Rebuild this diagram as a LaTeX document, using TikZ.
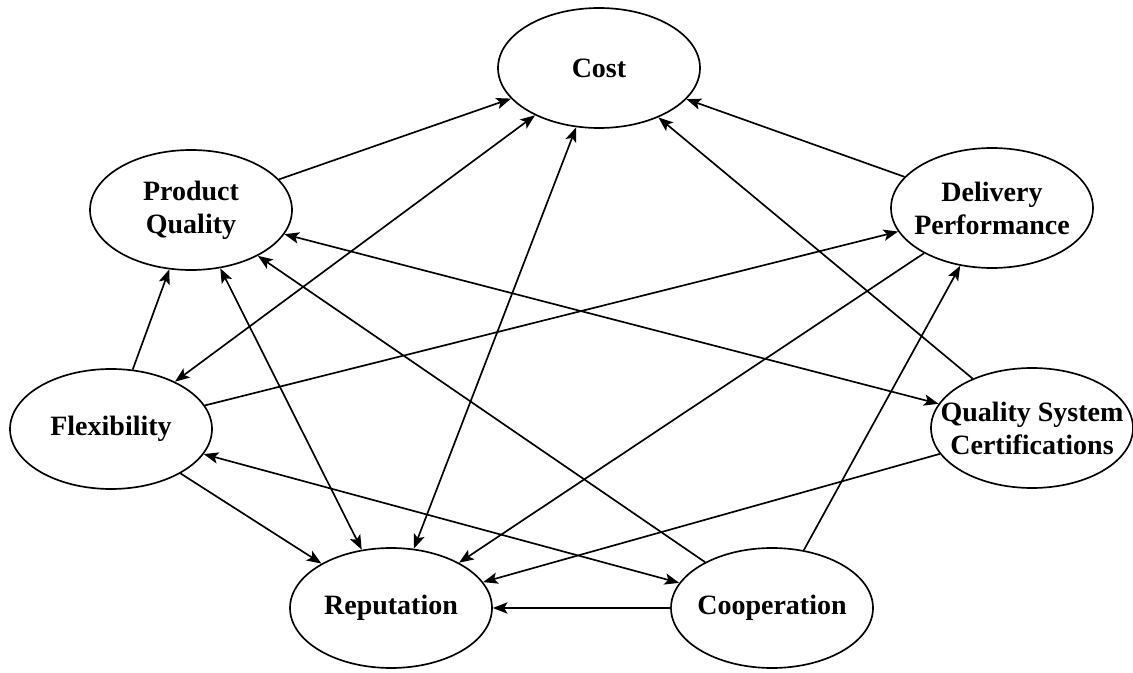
\documentclass[tikz,border=0pt]{standalone}
\usepackage{fontspec}
\setmainfont{Liberation Serif}
\usetikzlibrary{shapes.geometric,arrows.meta}

\begin{document}
\begin{tikzpicture}[x=0.75pt,y=-0.75pt,
  ell/.style={ellipse, draw, line width=1.25pt, minimum width=151.5pt,
              minimum height=90pt, inner sep=0pt},
  lbl/.style={font=\fontsize{21}{24.75}\selectfont\bfseries, align=center,
              inner sep=0pt},
  link/.style={line width=1.25pt},
  >={Stealth[length=11pt,width=8.5pt,inset=2.5pt]}]
\useasboundingbox (0,0) rectangle (1133,673);

% factors
\node[ell] (cost) at (599,68)  {};
\node[ell] (pq)   at (191,210) {};
\node[ell] (dp)   at (992,208) {};
\node[ell] (flex) at (111,429) {};
\node[ell] (qsc)  at (1032,428) {};
\node[ell] (rep)  at (391,608) {};
\node[ell] (coop) at (772,608) {};

\node[lbl] (cost-t) at (cost) {Cost};
\node[lbl] (pq-t)   at (pq)   {Product\\Quality};
\node[lbl] (dp-t)   at (dp)   {Delivery\\Performance};
\node[lbl] (flex-t) at (flex) {Flexibility};
\node[lbl] (qsc-t)  at (qsc)  {Quality System\\Certifications};
\node[lbl] (rep-t)  at (rep)  {Reputation};
\node[lbl] (coop-t) at (coop) {Cooperation};

% relations
\draw[link,->]  (pq) -- (cost);
\draw[link,<->] (flex) -- (cost);
\draw[link,<->] (rep) -- (cost);
\draw[link,->]  (dp) -- (cost);
\draw[link,->]  (qsc) -- (cost);
\draw[link,<->] (pq) -- (qsc);
\draw[link,->]  (flex) -- (pq);
\draw[link,->]  (flex) -- (dp);
\draw[link,<->] (pq) -- (rep);
\draw[link,->]  (coop) -- (pq);
\draw[link,<->] (flex) -- (coop);
\draw[link,->]  (flex) -- (rep);
\draw[link,->]  (dp) -- (rep);
\draw[link,->]  (qsc) -- (rep);
\draw[link,->]  (coop) -- (rep);
\draw[link,->]  (coop) -- (dp);
\end{tikzpicture}
\end{document}
